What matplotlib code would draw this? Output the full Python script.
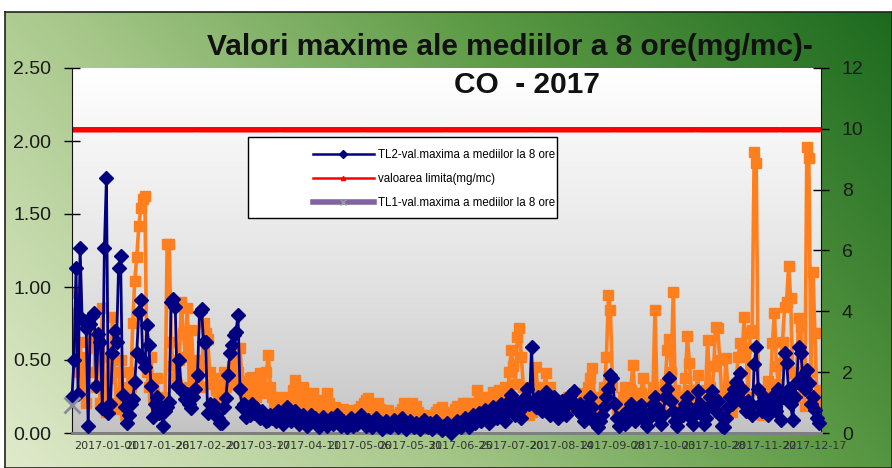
import numpy as np
import matplotlib
matplotlib.use("Agg")
import matplotlib.pyplot as plt
from matplotlib import font_manager
from matplotlib.patches import Rectangle
from matplotlib.lines import Line2D
from matplotlib.colors import LinearSegmentedColormap

# TL2 - max of 8h averages (mg/mc), left axis
tl2 = [
    0.25, 0.50, 1.13, 0.27, 1.27, 0.78, 0.77, 0.72, 0.05, 0.75,
    0.80, 0.82, 0.32, 0.68, 0.62, 0.17, 1.27, 1.75, 0.14, 0.20,
    0.55, 0.70, 0.62, 1.13, 1.21, 0.26, 0.18, 0.07, 0.12, 0.20,
    0.23, 0.35, 0.55, 0.83, 0.91, 0.50, 0.45, 0.74, 0.60, 0.32,
    0.11, 0.20, 0.25, 0.14, 0.18, 0.05, 0.15, 0.18, 0.21, 0.90,
    0.92, 0.86, 0.32, 0.50, 0.30, 0.28, 0.23, 0.27, 0.20, 0.17,
    0.25, 0.30, 0.40, 0.83, 0.85, 0.62, 0.62, 0.14, 0.20, 0.15,
    0.19, 0.12, 0.10, 0.07, 0.07, 0.18, 0.24, 0.40, 0.55, 0.60,
    0.67, 0.69, 0.81, 0.30, 0.18, 0.20, 0.11, 0.15, 0.12, 0.20,
    0.14, 0.17, 0.12, 0.10, 0.15, 0.12, 0.08, 0.09, 0.12, 0.10,
    0.12, 0.08, 0.15, 0.10, 0.06, 0.12, 0.18, 0.10, 0.08, 0.14,
    0.15, 0.09, 0.06, 0.10, 0.12, 0.07, 0.05, 0.09, 0.12, 0.08,
    0.10, 0.06, 0.04, 0.08, 0.11, 0.07, 0.05, 0.08, 0.10, 0.06,
    0.09, 0.12, 0.07, 0.05, 0.08, 0.06, 0.04, 0.07, 0.10, 0.05,
    0.08, 0.06, 0.10, 0.12, 0.07, 0.05, 0.09, 0.06, 0.04, 0.08,
    0.10, 0.07, 0.05, 0.03, 0.06, 0.08, 0.05, 0.04, 0.07, 0.09,
    0.06, 0.04, 0.08, 0.10, 0.06, 0.03, 0.05, 0.08, 0.06, 0.04,
    0.07, 0.05, 0.03, 0.06, 0.09, 0.05, 0.04, 0.07, 0.03, 0.05,
    0.08, 0.06, 0.04, 0.02, 0.05, 0.07, 0.04, 0.00, 0.03, 0.06,
    0.08, 0.05, 0.04, 0.07, 0.10, 0.06, 0.04, 0.08, 0.12, 0.07,
    0.10, 0.14, 0.08, 0.12, 0.16, 0.10, 0.07, 0.12, 0.18, 0.14,
    0.10, 0.16, 0.20, 0.12, 0.08, 0.15, 0.22, 0.26, 0.18, 0.12,
    0.20, 0.15, 0.10, 0.18, 0.25, 0.30, 0.20, 0.59, 0.22, 0.18,
    0.25, 0.20, 0.15, 0.22, 0.28, 0.18, 0.12, 0.20, 0.25, 0.16,
    0.10, 0.15, 0.22, 0.18, 0.12, 0.20, 0.26, 0.22, 0.29, 0.18,
    0.15, 0.20, 0.12, 0.08, 0.14, 0.20, 0.25, 0.18, 0.10, 0.06,
    0.04, 0.08, 0.12, 0.18, 0.25, 0.30, 0.40, 0.38, 0.20, 0.10,
    0.05, 0.08, 0.12, 0.06, 0.15, 0.10, 0.20, 0.14, 0.08, 0.12,
    0.18, 0.19, 0.12, 0.08, 0.05, 0.10, 0.15, 0.20, 0.25, 0.18,
    0.10, 0.06, 0.12, 0.25, 0.30, 0.38, 0.22, 0.15, 0.08, 0.05,
    0.10, 0.15, 0.12, 0.20, 0.25, 0.18, 0.10, 0.06, 0.15, 0.29,
    0.20, 0.12, 0.06, 0.10, 0.18, 0.25, 0.29, 0.20, 0.15, 0.22,
    0.12, 0.05, 0.04, 0.10, 0.18, 0.25, 0.20, 0.30, 0.35, 0.25,
    0.41, 0.30, 0.20, 0.15, 0.22, 0.18, 0.12, 0.47, 0.59, 0.30,
    0.20, 0.15, 0.25, 0.20, 0.12, 0.18, 0.25, 0.20, 0.15, 0.30,
    0.09, 0.25, 0.55, 0.48, 0.30, 0.20, 0.09, 0.25, 0.35, 0.59,
    0.55, 0.40, 0.30, 0.43, 0.34, 0.20, 0.25, 0.16, 0.10, 0.07,
]

# orange series (no legend entry), right axis
orange = [
    3.95, 2.2, 4.6, 2.0, 3.0, 1.4, 2.5, 1.0, 2.0, 3.0,
    3.3, 2.8, 1.5, 2.3, 1.0, 4.1, 1.2, 0.7, 2.5, 1.8,
    3.8, 2.0, 1.0, 0.8, 2.4, 1.5, 0.6, 1.2, 2.0, 1.5,
    3.6, 5.0, 5.8, 6.8, 7.4, 7.7, 7.8, 2.0, 1.5, 2.5,
    1.2, 1.0, 1.8, 1.0, 0.8, 1.2, 1.0, 6.2, 6.2, 3.0,
    2.2, 1.8, 1.6, 2.4, 4.3, 3.3, 2.5, 4.1, 1.5, 3.4,
    2.0, 1.7, 2.4, 2.2, 1.5, 3.6, 3.3, 3.1, 2.0, 1.6,
    1.8, 1.4, 1.2, 1.6, 1.3, 2.0, 1.5, 1.7, 1.9, 2.2,
    2.4, 1.6, 2.0, 2.8, 1.7, 1.3, 1.5, 1.2, 1.8, 1.84,
    1.5, 1.2, 1.6, 1.97, 1.4, 1.3, 2.0, 2.57, 1.5, 1.2,
    1.0, 0.9, 1.1, 1.2, 0.86, 1.0, 0.8, 0.9, 1.2, 1.4,
    1.74, 1.2, 1.0, 0.9, 1.5, 1.3, 1.1, 0.8, 1.0, 1.3,
    1.0, 0.9, 0.7, 0.8, 1.1, 1.0, 1.3, 1.0, 0.8, 0.7,
    0.86, 0.65, 0.7, 0.6, 0.8, 0.7, 0.65, 0.75, 0.6, 0.5,
    0.6, 0.7, 0.8, 0.9, 1.0, 1.1, 1.15, 0.9, 0.7, 0.8,
    0.9, 1.0, 0.8, 0.6, 0.7, 0.65, 0.75, 0.55, 0.6, 0.5,
    0.55, 0.6, 0.7, 0.8, 1.0, 0.95, 0.8, 0.9, 1.0, 0.85,
    0.9, 0.7, 0.6, 0.5, 0.55, 0.6, 0.5, 0.55, 0.45, 0.6,
    0.7, 0.8, 0.75, 0.86, 0.7, 0.6, 0.5, 0.6, 0.7, 0.8,
    0.9, 0.85, 0.7, 1.0, 0.8, 1.0, 0.9, 0.7, 0.8, 1.0,
    1.4, 1.0, 0.9, 1.2, 0.86, 1.0, 1.1, 1.2, 1.35, 1.0,
    1.1, 1.4, 0.9, 1.2, 1.5, 1.0, 2.0, 2.73, 2.2, 1.6,
    3.16, 3.45, 2.5, 1.5, 1.0, 0.8, 0.6, 0.7, 1.2, 2.17,
    1.5, 1.0, 0.8, 1.3, 1.97, 1.2, 1.51, 0.9, 0.7, 0.8,
    0.6, 0.7, 0.9, 1.0, 0.8, 1.2, 1.0, 0.9, 0.8, 1.1,
    1.3, 1.0, 0.8, 0.9, 1.2, 1.5, 1.8, 2.14, 1.2, 0.9,
    0.8, 1.0, 1.2, 1.5, 2.5, 4.54, 4.05, 1.5, 1.0, 0.8,
    0.7, 0.9, 1.2, 1.5, 1.0, 0.8, 1.4, 2.24, 1.3, 0.9,
    1.0, 1.3, 1.8, 1.2, 0.8, 0.6, 0.9, 1.5, 4.05, 1.3,
    0.8, 0.7, 1.1, 1.6, 2.73, 3.1, 2.0, 4.64, 1.4, 0.9,
    0.7, 0.8, 1.2, 1.8, 3.2, 2.3, 1.4, 0.9, 1.2, 1.9,
    1.0, 0.7, 0.9, 1.4, 3.06, 1.5, 1.0, 2.2, 3.5, 3.45,
    2.4, 1.2, 0.8, 2.47, 1.5, 0.9, 0.7, 1.0, 1.6, 2.5,
    2.96, 2.5, 3.8, 2.8, 1.2, 3.3, 3.39, 9.24, 8.88, 1.4,
    0.8, 0.6, 1.0, 1.3, 1.7, 1.5, 2.96, 3.95, 2.2, 1.6,
    2.3, 3.0, 4.14, 4.3, 5.5, 4.44, 1.97, 1.2, 2.0, 3.78,
    3.49, 1.5, 0.9, 9.4, 9.05, 2.0, 5.3, 3.29, 1.0, 1.4,
]

limit_value = 10  # valoarea limita (mg/mc), right axis
tl1 = [0.19]      # TL1 has only the first value

tick_index = [1, 26, 51, 76, 101, 126, 151, 176, 201, 226, 251, 276, 301, 326, 351]
tick_labels = ["2017-01-01", "2017-01-26", "2017-02-20", "2017-03-17", "2017-04-11",
               "2017-05-06", "2017-05-31", "2017-06-25", "2017-07-20", "2017-08-14",
               "2017-09-08", "2017-10-03", "2017-10-28", "2017-11-22", "2017-12-17"]

legend_labels = ["TL2-val.maxima a mediilor la 8 ore", "valoarea limita(mg/mc)",
                 "TL1-val.maxima a mediilor la 8 ore"]

names = {f.name for f in font_manager.fontManager.ttflist}
narrow = "Liberation Sans Narrow" if "Liberation Sans Narrow" in names else "Liberation Sans"

W, H = 892, 468
fig = plt.figure(figsize=(W / 100, H / 100), dpi=100)

# green diagonal background
bg = fig.add_axes([5 / W, 0, 887 / W, 456 / H])
xx, yy = np.meshgrid(np.linspace(0, 1, 300), np.linspace(0, 1, 150))
green = LinearSegmentedColormap.from_list("g", ["#e0eacb", "#a9c98c", "#5c9a45", "#1d6a1f"])
bg.imshow(0.7 * xx + 0.3 * yy, cmap=green, aspect="auto", origin="lower", extent=[0, 1, 0, 1])
bg.set_xticks([])
bg.set_yticks([])
for s in bg.spines.values():
    s.set_color("#222222")
    s.set_linewidth(1.2)

# plot area
ax = fig.add_axes([72 / W, 35 / H, 749 / W, 365 / H])
ax2 = ax.twinx()
ax.set_zorder(3)
ax2.set_zorder(2)
ax.patch.set_visible(False)

gray = LinearSegmentedColormap.from_list("w", ["#c2c2c2", "#e2e2e2", "#ffffff"])
ax2.imshow(np.linspace(0, 1, 200).reshape(-1, 1) ** 0.8, cmap=gray, aspect="auto", origin="lower",
           extent=[0, 1, 0, 1], transform=ax2.transAxes, zorder=0)

x_or = np.arange(len(orange))
ax2.plot(x_or, orange, color="#ff7f1e", lw=2.6, marker="s", ms=7.5, zorder=2)
x_lim = np.arange(len(tl2))
ax2.plot(x_lim, [limit_value] * len(x_lim), color="red", lw=3.5, marker="^", ms=3, zorder=3)

x_tl2 = np.arange(len(tl2))
ax.plot(x_tl2, tl2, color="#000080", lw=2, marker="D", ms=7.5, zorder=4, clip_on=False)
ax.plot([0], tl1, color="#8064a2", lw=4, marker="x", ms=11, mec="#8a8a9a", mew=2,
        zorder=5, clip_on=False)

ax.set_xlim(0, 370)
ax.set_ylim(0, 2.5)
ax2.set_ylim(0, 12)
ax.set_yticks([0, 0.5, 1.0, 1.5, 2.0, 2.5])
ax.set_yticklabels(["%.2f" % v for v in [0, 0.5, 1.0, 1.5, 2.0, 2.5]])
ax2.set_yticks(range(0, 13, 2))
ax.set_xticks(tick_index)
ax.set_xticklabels(tick_labels, ha="left", fontsize=8, color="#333333")
ax.tick_params(axis="x", length=0, pad=6)
ax.tick_params(axis="y", direction="inout", length=12, width=1, pad=9, labelsize=14,
               labelcolor="#1a1a1a")
ax2.tick_params(axis="y", direction="inout", length=12, width=1, pad=9, labelsize=14,
                labelcolor="#1a1a1a")
for t in ax.get_yticklabels() + ax2.get_yticklabels():
    t.set_family(narrow)

for a in (ax, ax2):
    a.spines["top"].set_visible(False)
    a.spines["bottom"].set_color("#7f7f7f")
    a.spines["bottom"].set_linewidth(2)
ax.spines["right"].set_visible(False)
ax.spines["left"].set_color("#111111")
ax2.spines["left"].set_visible(False)
ax2.spines["right"].set_color("#111111")

# legend with its own wide box
box = Rectangle((248 / W, 1 - 218 / H), 309 / W, 81 / H, transform=fig.transFigure,
                facecolor="white", edgecolor="black", lw=1, zorder=10)
ax.add_patch(box)
handles = [
    Line2D([], [], color="#000080", lw=1.8, marker="D", ms=4),
    Line2D([], [], color="red", lw=1.8, marker="^", ms=3),
    Line2D([], [], color="#8064a2", lw=4, marker="x", ms=5, mec="#9a9aaa"),
]
leg = ax.legend(handles, legend_labels, loc="upper left", bbox_to_anchor=(307 / W, 1 - 143 / H),
                bbox_transform=fig.transFigure, frameon=False, borderpad=0, handlelength=5.3,
                handletextpad=0.35, labelspacing=1.05, prop={"family": narrow, "size": 8.3})
leg.set_zorder(11)

fig.text(510 / W, 1 - 47 / H, "Valori maxime ale mediilor a 8 ore(mg/mc)-", ha="center",
         va="center", fontsize=21.5, weight="bold", family=narrow, color="#111111")
fig.text(527 / W, 1 - 85 / H, "CO  - 2017", ha="center", va="center", fontsize=21.5,
         weight="bold", family=narrow, color="#111111")

fig.savefig("out.png", dpi=100)
